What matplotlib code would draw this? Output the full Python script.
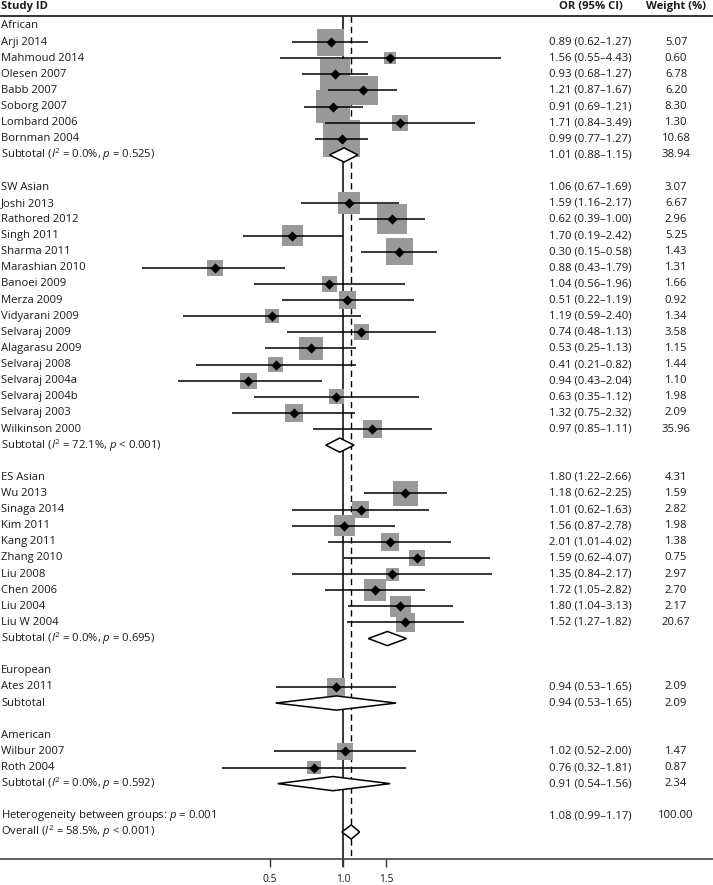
import numpy as np
import matplotlib
matplotlib.use("Agg")
import matplotlib.pyplot as plt
from matplotlib.transforms import blended_transform_factory

plt.rcParams['font.family'] = ['Open Sans', 'DejaVu Sans']
plt.rcParams['mathtext.fontset'] = 'custom'
plt.rcParams['mathtext.rm'] = 'Open Sans'
plt.rcParams['mathtext.it'] = 'Open Sans:italic'

# ---------------- data ----------------
groups = ["African", "SW Asian", "ES Asian", "European", "American"]

studies = [
    ["Arji 2014", "Mahmoud 2014", "Olesen 2007", "Babb 2007", "Soborg 2007", "Lombard 2006", "Bornman 2004"],
    ["Joshi 2013", "Rathored 2012", "Singh 2011", "Sharma 2011", "Marashian 2010", "Banoei 2009", "Merza 2009",
     "Vidyarani 2009", "Selvaraj 2009", "Alagarasu 2009", "Selvaraj 2008", "Selvaraj 2004a", "Selvaraj 2004b",
     "Selvaraj 2003", "Wilkinson 2000"],
    ["Wu 2013", "Sinaga 2014", "Kim 2011", "Kang 2011", "Zhang 2010", "Liu 2008", "Chen 2006", "Liu 2004", "Liu W 2004"],
    ["Ates 2011"],
    ["Wilbur 2007", "Roth 2004"],
]

# plotted study estimates (as drawn)
est = [
    [0.89, 1.56, 0.93, 1.21, 0.91, 1.71, 0.99],
    [1.06, 1.59, 0.62, 1.70, 0.30, 0.88, 1.04, 0.51, 1.19, 0.74, 0.53, 0.41, 0.94, 0.63, 1.32],
    [1.80, 1.18, 1.01, 1.56, 2.01, 1.59, 1.35, 1.72, 1.80],
    [0.94],
    [1.02, 0.76],
]
lo = [
    [0.62, 0.55, 0.68, 0.87, 0.69, 0.84, 0.77],
    [0.67, 1.16, 0.39, 1.19, 0.15, 0.43, 0.56, 0.22, 0.59, 0.48, 0.25, 0.21, 0.43, 0.35, 0.75],
    [1.22, 0.62, 0.62, 0.87, 1.01, 0.62, 0.84, 1.05, 1.04],
    [0.53],
    [0.52, 0.32],
]
hi = [
    [1.27, 4.43, 1.27, 1.67, 1.21, 3.49, 1.27],
    [1.69, 2.17, 1.00, 2.42, 0.58, 1.79, 1.96, 1.19, 2.40, 1.13, 1.13, 0.82, 2.04, 1.12, 2.32],
    [2.66, 2.25, 1.63, 2.78, 4.02, 4.07, 2.17, 2.82, 3.13],
    [1.65],
    [2.00, 1.81],
]
weight = [
    [5.07, 0.60, 6.78, 6.20, 8.30, 1.30, 10.68],
    [3.07, 6.67, 2.96, 5.25, 1.43, 1.31, 1.66, 0.92, 1.34, 3.58, 1.15, 1.44, 1.10, 1.98, 2.09],
    [4.31, 1.59, 2.82, 1.98, 1.38, 0.75, 2.97, 2.70, 2.17],
    [2.09],
    [1.47, 0.87],
]

sub_labels = [
    r"Subtotal ($\mathit{I}^2$ = 0.0%, $\mathit{p}$ = 0.525)",
    r"Subtotal ($\mathit{I}^2$ = 72.1%, $\mathit{p}$ < 0.001)",
    r"Subtotal ($\mathit{I}^2$ = 0.0%, $\mathit{p}$ = 0.695)",
    "Subtotal",
    r"Subtotal ($\mathit{I}^2$ = 0.0%, $\mathit{p}$ = 0.592)",
]
sub_est = [1.01, 0.97, 1.52, 0.94, 0.91]
sub_lo = [0.88, 0.85, 1.27, 0.53, 0.54]
sub_hi = [1.15, 1.11, 1.82, 1.65, 1.56]

overall_est, overall_lo, overall_hi = 1.08, 0.99, 1.17
het_label = r"Heterogeneity between groups: $\mathit{p}$ = 0.001"
overall_label = r"Overall ($\mathit{I}^2$ = 58.5%, $\mathit{p}$ < 0.001)"

# text columns as printed (group header row, study rows, subtotal row)
or_text = [
    ["", "0.89 (0.62–1.27)", "1.56 (0.55–4.43)", "0.93 (0.68–1.27)", "1.21 (0.87–1.67)", "0.91 (0.69–1.21)",
     "1.71 (0.84–3.49)", "0.99 (0.77–1.27)", "1.01 (0.88–1.15)"],
    ["1.06 (0.67–1.69)", "1.59 (1.16–2.17)", "0.62 (0.39–1.00)", "1.70 (0.19–2.42)", "0.30 (0.15–0.58)",
     "0.88 (0.43–1.79)", "1.04 (0.56–1.96)", "0.51 (0.22–1.19)", "1.19 (0.59–2.40)", "0.74 (0.48–1.13)",
     "0.53 (0.25–1.13)", "0.41 (0.21–0.82)", "0.94 (0.43–2.04)", "0.63 (0.35–1.12)", "1.32 (0.75–2.32)",
     "0.97 (0.85–1.11)", ""],
    ["1.80 (1.22–2.66)", "1.18 (0.62–2.25)", "1.01 (0.62–1.63)", "1.56 (0.87–2.78)", "2.01 (1.01–4.02)",
     "1.59 (0.62–4.07)", "1.35 (0.84–2.17)", "1.72 (1.05–2.82)", "1.80 (1.04–3.13)", "1.52 (1.27–1.82)", ""],
    ["", "0.94 (0.53–1.65)", "0.94 (0.53–1.65)"],
    ["", "1.02 (0.52–2.00)", "0.76 (0.32–1.81)", "0.91 (0.54–1.56)"],
]
wt_text = [
    ["", "5.07", "0.60", "6.78", "6.20", "8.30", "1.30", "10.68", "38.94"],
    ["3.07", "6.67", "2.96", "5.25", "1.43", "1.31", "1.66", "0.92", "1.34", "3.58", "1.15", "1.44", "1.10",
     "1.98", "2.09", "35.96", ""],
    ["4.31", "1.59", "2.82", "1.98", "1.38", "0.75", "2.97", "2.70", "2.17", "20.67", ""],
    ["", "2.09", "2.09"],
    ["", "1.47", "0.87", "2.34"],
]
final_or_text = ["1.08 (0.99–1.17)", ""]
final_wt_text = ["100.00", ""]

xticks = [0.5, 1.0, 1.5]
xtick_labels = ["0.5", "1.0", "1.5"]

# ---------------- layout ----------------
W, H = 713, 885
X_ONE = 343.0      # pixel of OR = 1
PX_LN = 106.0      # pixels per ln unit
Y0, DY = 26.0, 16.12

def row_of(py):
    return (py - Y0) / DY

fig = plt.figure(figsize=(W / 100, H / 100), dpi=100)
ax = fig.add_axes([0, 0, 1, 1])
ax.set_xscale('log')
ax.set_xlim(np.exp(-X_ONE / PX_LN), np.exp((W - X_ONE) / PX_LN))
ax.set_ylim(row_of(H), row_of(0))
ax.axis('off')

tr = blended_transform_factory(ax.transAxes, ax.transData)
TXT = '#1a1a1a'
FS = 8.1

def fx(px):
    return px / W

# headers
ax.text(fx(1), row_of(7), "Study ID", transform=tr, fontsize=FS, fontweight='bold', color=TXT,
        ha='left', va='center')
ax.text(fx(591), row_of(7), "OR (95% CI)", transform=tr, fontsize=FS, fontweight='bold', color=TXT,
        ha='center', va='center')
ax.text(fx(676), row_of(7), "Weight (%)", transform=tr, fontsize=FS, fontweight='bold', color=TXT,
        ha='center', va='center')
ax.plot([0, 1], [row_of(15.5)] * 2, transform=tr, color='#222222', lw=1.3, solid_capstyle='butt')

y_top = row_of(15.5)
y_axis = row_of(859)

# reference lines
ax.vlines(1.0, y_top, y_axis + 8 / DY, color='black', lw=1.1, zorder=1)
ax.vlines(overall_est, y_top, y_axis, color='black', lw=1.0, linestyles=(0, (4.5, 3)), zorder=1)

HH = 0.44  # diamond half height in rows

def box_pts(w):
    return (10.0 * np.sqrt(w) + 4.25) * 0.72

def put_text(r, label, ortxt, wttxt):
    ax.text(fx(1), r, label, transform=tr, fontsize=FS, color=TXT, ha='left', va='center')
    if ortxt:
        ax.text(fx(549), r, ortxt, transform=tr, fontsize=FS, color=TXT, ha='left', va='center')
    if wttxt:
        ax.text(fx(676), r, wttxt, transform=tr, fontsize=FS, color=TXT, ha='center', va='center')

def diamond(e, l, h, r):
    ax.fill([l, e, h, e, l], [r, r - HH, r, r + HH, r], facecolor='white', edgecolor='black',
            lw=1.1, zorder=6, joinstyle='miter')

row = 0
for g in range(len(groups)):
    put_text(row, groups[g], or_text[g][0], wt_text[g][0])
    rows = np.arange(row + 1, row + 1 + len(studies[g]))
    for i, r in enumerate(rows):
        put_text(r, studies[g][i], or_text[g][i + 1], wt_text[g][i + 1])
    w = np.array(weight[g])
    ax.scatter(est[g], rows, marker='s', s=box_pts(w) ** 2, color='#999999',
               linewidths=0, zorder=3)
    ax.hlines(rows, lo[g], hi[g], color='black', lw=1.1, zorder=4)
    ax.scatter(est[g], rows, marker='D', s=5.2 ** 2, color='black', linewidths=0, zorder=5)
    sr = row + 1 + len(studies[g])
    put_text(sr, sub_labels[g], or_text[g][-1], wt_text[g][-1])
    diamond(sub_est[g], sub_lo[g], sub_hi[g], sr)
    row = sr + 2

put_text(row, het_label, final_or_text[0], final_wt_text[0])
put_text(row + 1, overall_label, final_or_text[1], final_wt_text[1])
diamond(overall_est, overall_lo, overall_hi, row + 1)

# bottom axis
ax.plot([0, 1], [y_axis] * 2, transform=tr, color='#444444', lw=1.2, solid_capstyle='butt')
ax.vlines(xticks, y_axis, y_axis + 8 / DY, color='#333333', lw=1.0)
for t, lab in zip(xticks, xtick_labels):
    ax.text(t, row_of(880), lab, fontsize=7.4, color=TXT, ha='center', va='center')

fig.savefig("out.png", dpi=100)
